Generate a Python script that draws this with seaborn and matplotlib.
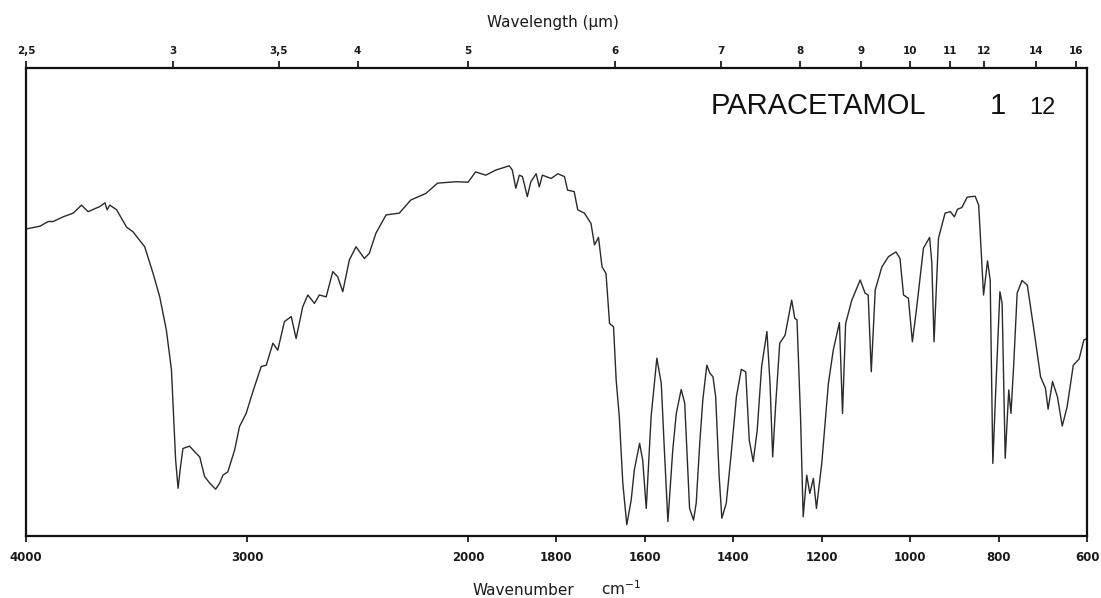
import numpy as np
import pandas as pd
import matplotlib
matplotlib.use("Agg")
import matplotlib.pyplot as plt
import seaborn as sns

# IR spectrum of paracetamol (wavenumber cm-1, transmittance %)
wn_high = [4000, 3937, 3899, 3877, 3832, 3786, 3749, 3719, 3666, 3643, 3633, 3621, 3590,
           3545, 3516, 3463, 3425, 3395, 3365, 3342, 3332, 3323, 3312, 3301, 3290, 3260,
           3237, 3214, 3192, 3169, 3142, 3124, 3109, 3087, 3056, 3034, 3004, 2974, 2936,
           2913, 2883, 2861, 2831, 2800, 2778, 2748, 2725, 2695, 2673, 2642, 2612, 2590,
           2567, 2537, 2507, 2469, 2447, 2417, 2371, 2311, 2259, 2191, 2138, 2055, 2000]
t_high = [65.6, 66.2, 67.2, 67.2, 68.2, 69.0, 70.7, 69.3, 70.4, 71.2, 69.7, 70.7, 69.7,
          66.0, 65.0, 61.8, 56.1, 51.1, 44.0, 35.5, 25.5, 16.2, 10.2, 14.8, 18.7, 19.2,
          18.0, 16.9, 12.7, 11.3, 10.0, 11.3, 13.0, 13.7, 18.4, 23.4, 26.2, 30.8, 36.2,
          36.5, 41.2, 39.7, 45.8, 46.9, 42.2, 49.0, 51.5, 49.7, 51.5, 51.1, 56.5, 55.4,
          52.2, 59.0, 61.8, 59.3, 60.4, 64.7, 68.6, 69.0, 71.8, 73.2, 75.4, 75.7, 75.6]

wn_mid = [1983, 1960, 1937, 1907, 1900, 1892, 1884, 1877, 1866, 1858, 1846, 1839, 1832,
          1812, 1797, 1782, 1775, 1760, 1752, 1737, 1722, 1714, 1705, 1697, 1688, 1680,
          1671, 1665, 1658, 1650, 1641, 1631, 1624, 1612, 1605, 1597, 1586, 1573, 1563,
          1556, 1548, 1537, 1529, 1518, 1510, 1499, 1490, 1484, 1476, 1469, 1460, 1453,
          1446, 1440, 1432, 1426, 1416, 1404, 1393, 1382, 1372, 1364, 1355, 1346, 1336,
          1324, 1317, 1311, 1304, 1295, 1283, 1278, 1268, 1261, 1256, 1248, 1242, 1234,
          1227, 1219, 1212, 1200]
t_mid = [77.8, 77.1, 78.2, 79.1, 78.2, 74.3, 77.1, 76.8, 72.5, 75.7, 77.4, 74.6, 77.1,
         76.4, 77.4, 76.8, 73.9, 73.6, 69.7, 69.0, 66.8, 62.2, 63.8, 57.5, 56.1, 45.4,
         44.7, 33.3, 25.5, 11.3, 2.4, 7.7, 14.1, 19.8, 16.2, 5.9, 25.5, 38.0, 32.6,
         18.4, 3.1, 18.4, 26.2, 31.3, 28.4, 5.9, 3.4, 7.0, 19.8, 29.1, 36.5, 34.8,
         34.0, 29.8, 12.7, 3.8, 7.0, 18.4, 29.8, 35.6, 35.1, 20.5, 15.9, 22.6, 36.2,
         43.7, 32.6, 16.9, 28.4, 41.2, 42.9, 45.4, 50.4, 46.5, 46.2, 25.5, 4.1, 13.0,
         9.1, 12.3, 5.9, 15.5]

wn_low = [1185, 1174, 1160, 1153, 1146, 1132, 1113, 1102, 1095, 1088, 1079, 1064, 1049,
          1032, 1023, 1015, 1004, 995, 985, 970, 956, 951, 946, 936, 921, 909, 900, 893,
          883, 871, 853, 845, 840, 834, 825, 819, 813, 807, 797, 792, 785, 777, 772, 766,
          758, 747, 735, 720, 705, 694, 688, 678, 667, 656, 645, 631, 618, 607, 600]
t_low = [32.6, 39.7, 45.6, 26.2, 45.4, 50.4, 54.7, 51.9, 51.5, 35.1, 52.6, 57.5, 59.7,
         60.7, 59.3, 51.5, 50.8, 41.5, 49.0, 61.5, 63.8, 58.3, 41.5, 63.6, 69.0, 69.3,
         68.2, 69.8, 70.2, 72.4, 72.6, 70.7, 61.8, 51.5, 58.8, 54.7, 15.5, 29.8, 52.2,
         49.7, 16.6, 31.2, 26.2, 36.2, 51.9, 54.6, 53.6, 44.0, 34.0, 31.6, 27.1, 33.0,
         29.8, 23.5, 27.6, 36.5, 37.8, 41.9, 42.2]

wn_ticks = [4000, 3000, 2000, 1800, 1600, 1400, 1200, 1000, 800, 600]
um_ticks = [2.5, 3, 3.5, 4, 5, 6, 7, 8, 9, 10, 11, 12, 14, 16]
um_labels = ["2,5", "3", "3,5", "4", "5", "6", "7", "8", "9", "10", "11", "12", "14", "16"]

df = pd.DataFrame({
    "wavenumber": wn_high + wn_mid + wn_low,
    "T": t_high + t_mid + t_low,
})


# chart paper scale: 4000-2000 is drawn at half the scale of 2000-600
def fwd(nu):
    nu = np.asarray(nu, dtype=float)
    return np.where(nu > 2000, 2000 + (nu - 2000) / 2, nu)


def inv(t):
    t = np.asarray(t, dtype=float)
    return np.where(t > 2000, 2000 + (t - 2000) * 2, t)


sns.set_theme(style="white")
plt.rcParams["font.family"] = ["DejaVu Sans"]

W, H = 1101, 598
fig = plt.figure(figsize=(W / 100, H / 100), dpi=100)
ax = fig.add_axes([26 / W, 1 - 536 / H, (1087 - 26) / W, (536 - 68) / H])

sns.lineplot(data=df, x="wavenumber", y="T", estimator=None, sort=False,
             color="#2a2a2a", linewidth=1.0, ax=ax)

ax.set_xscale("function", functions=(fwd, inv))
ax.set_xlim(4000, 600)
ax.set_ylim(0, 100)
ax.set_yticks([])
ax.set_xlabel("")
ax.set_ylabel("")
ax.set_xticks(wn_ticks)
ax.set_xticklabels([str(v) for v in wn_ticks], fontweight="bold", fontsize=8.5, color="#1a1a1a")
ax.tick_params(axis="x", direction="out", length=4.5, width=1.3, pad=6.5, color="#1a1a1a")
for s in ax.spines.values():
    s.set_visible(True)
    s.set_linewidth(1.6)
    s.set_color("#111111")

ax2 = ax.twiny()
ax2.set_xscale("function", functions=(fwd, inv))
ax2.set_xlim(4000, 600)
ax2.set_xticks([10000 / w for w in um_ticks])
ax2.set_xticklabels(um_labels, fontweight="bold", fontsize=7.5, color="#1a1a1a")
ax2.tick_params(axis="x", direction="out", length=5, width=1.3, pad=4, color="#1a1a1a")
for s in ax2.spines.values():
    s.set_visible(False)

fig.text(553 / W, 1 - 22 / H, "Wavelength (µm)", fontsize=11, ha="center", va="center",
         color="#1a1a1a")
fig.text(523 / W, 1 - 595 / H, "Wavenumber", fontsize=11, ha="center", va="baseline",
         color="#1a1a1a")
fig.text(601 / W, 1 - 595 / H, "cm$^{-1}$", fontsize=11, ha="left", va="baseline",
         color="#1a1a1a")

fig.text(711 / W, 1 - 114 / H, "PARACETAMOL", fontsize=21, family="Liberation Sans",
         va="baseline", ha="left", color="#111111")
fig.text(990 / W, 1 - 114 / H, "1", fontsize=21, family="Liberation Sans",
         va="baseline", ha="left", color="#111111")
fig.text(1029 / W, 1 - 114 / H, "12", fontsize=17, family="Liberation Sans",
         va="baseline", ha="left", color="#111111")

fig.savefig("out.png", dpi=100)
